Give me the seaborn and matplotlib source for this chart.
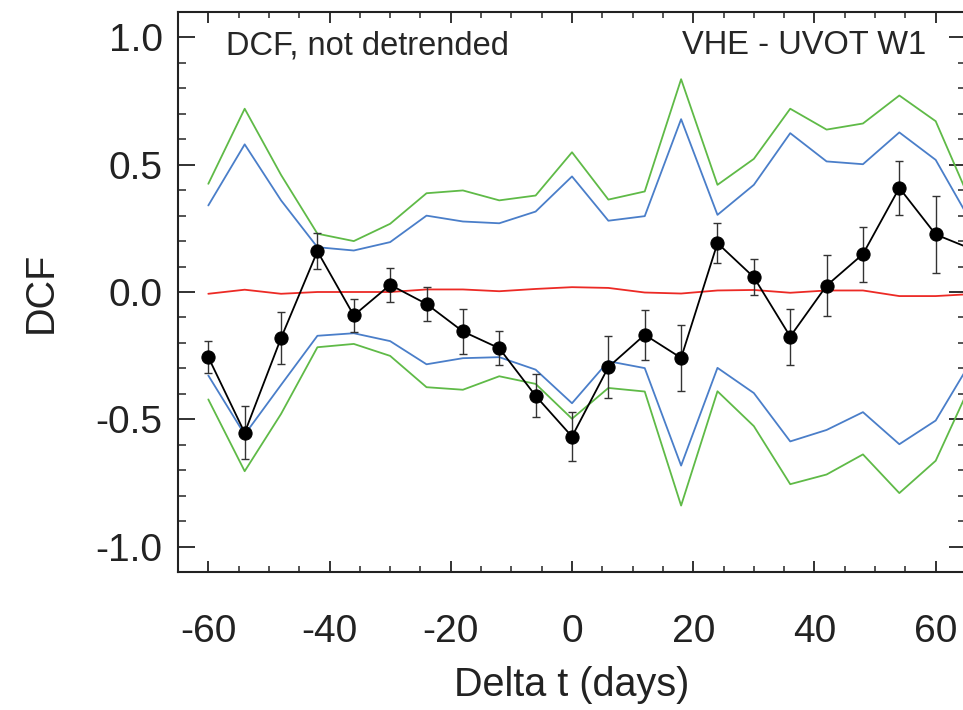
import numpy as np
import pandas as pd
import matplotlib
matplotlib.use("Agg")
import matplotlib.pyplot as plt
import seaborn as sns
from matplotlib.ticker import MultipleLocator

# time lags (days)
lags = [-60, -54, -48, -42, -36, -30, -24, -18, -12, -6, 0, 6, 12, 18, 24,
        30, 36, 42, 48, 54, 60, 66]

# DCF values and errors
dcf = [-0.256, -0.553, -0.181, 0.160, -0.092, 0.028, -0.047, -0.155, -0.221,
       -0.408, -0.568, -0.295, -0.168, -0.259, 0.192, 0.058, -0.175, 0.025,
       0.149, 0.409, 0.226, 0.168]
dcf_err = [0.062, 0.105, 0.103, 0.070, 0.064, 0.067, 0.066, 0.087, 0.066,
           0.085, 0.095, 0.123, 0.099, 0.128, 0.080, 0.070, 0.110, 0.120,
           0.108, 0.106, 0.152, 0.120]

# mean of simulated DCFs
sim_mean = [-0.007, 0.009, -0.007, 0.000, 0.000, 0.000, 0.010, 0.010, 0.003,
            0.012, 0.019, 0.016, -0.002, -0.006, 0.006, 0.008, -0.003, 0.006,
            0.006, -0.016, -0.016, -0.008]

# inner band (blue)
blue_hi = [0.340, 0.580, 0.360, 0.176, 0.163, 0.196, 0.300, 0.277, 0.270,
           0.316, 0.454, 0.280, 0.298, 0.679, 0.303, 0.421, 0.624, 0.513,
           0.502, 0.627, 0.519, 0.268]
blue_lo = [-0.328, -0.560, -0.365, -0.172, -0.162, -0.193, -0.284, -0.260,
           -0.256, -0.305, -0.437, -0.272, -0.299, -0.682, -0.298, -0.397,
           -0.587, -0.542, -0.472, -0.598, -0.505, -0.266]

# outer band (green)
green_hi = [0.425, 0.720, 0.460, 0.229, 0.200, 0.268, 0.388, 0.399, 0.360,
            0.379, 0.549, 0.363, 0.395, 0.836, 0.421, 0.523, 0.720, 0.638,
            0.662, 0.772, 0.671, 0.342]
green_lo = [-0.422, -0.704, -0.479, -0.217, -0.204, -0.251, -0.374, -0.384,
            -0.331, -0.361, -0.498, -0.377, -0.391, -0.839, -0.390, -0.527,
            -0.755, -0.717, -0.638, -0.790, -0.663, -0.352]

df = pd.DataFrame({"lag": lags, "dcf": dcf, "err": dcf_err, "mean": sim_mean,
                   "blue_hi": blue_hi, "blue_lo": blue_lo,
                   "green_hi": green_hi, "green_lo": green_lo})

sns.set_style("ticks")
plt.rcParams["font.family"] = ["Liberation Sans", "DejaVu Sans"]

fig = plt.figure(figsize=(9.63, 7.10), dpi=100)
ax = fig.add_axes([178 / 963, 138 / 710, 788 / 963, 560 / 710])

green = "#5fba47"
blue = "#4a7ec9"
red = "#ec2a25"

for col, c in [("green_hi", green), ("green_lo", green),
               ("blue_hi", blue), ("blue_lo", blue), ("mean", red)]:
    sns.lineplot(data=df, x="lag", y=col, color=c, lw=1.3, ax=ax)

ax.errorbar(df["lag"], df["dcf"], yerr=df["err"], fmt="none", ecolor="#333333",
            elinewidth=1.0, capsize=3.2, capthick=1.0, zorder=4)
sns.lineplot(data=df, x="lag", y="dcf", color="black", lw=1.3, ax=ax, zorder=5)
sns.scatterplot(data=df, x="lag", y="dcf", color="black", s=90,
                edgecolor="black", ax=ax, zorder=6)

ax.set_xlim(-65, 65)
ax.set_ylim(-1.1, 1.1)
ax.xaxis.set_minor_locator(MultipleLocator(5))
ax.yaxis.set_minor_locator(MultipleLocator(0.1))
ax.set_yticks([-1.0, -0.5, 0.0, 0.5, 1.0])
ax.set_yticklabels(["-1.0", "-0.5", "0.0", "0.5", "1.0"])
ax.set_xticks([-60, -40, -20, 0, 20, 40, 60])
ax.set_xticklabels(["-60", "-40", "-20", "0", "20", "40", "60"])

ax.tick_params(axis="x", which="major", direction="in", length=8, width=1.3,
               top=True, labelsize=28, pad=30, colors="#222222")
ax.tick_params(axis="x", which="minor", direction="in", length=4.5, width=1.1,
               top=True)
ax.tick_params(axis="y", which="major", direction="in", length=12, width=1.3,
               right=True, labelsize=28, pad=11, colors="#222222")
ax.tick_params(axis="y", which="minor", direction="in", length=6, width=1.1,
               right=True)
for s in ax.spines.values():
    s.set_linewidth(1.5)
    s.set_color("#222222")

ax.set_xlabel("Delta t (days)", fontsize=28.5, color="#222222")
ax.set_ylabel("DCF", fontsize=28.5, color="#222222")
ax.xaxis.set_label_coords(0.5, -0.168)
ax.yaxis.set_label_coords(-0.150, 0.5)

ax.text(0.061, 0.94, "DCF, not detrended", transform=ax.transAxes,
        fontsize=23.5, va="center", ha="left")
ax.text(0.64, 0.94, "VHE - UVOT W1", transform=ax.transAxes,
        fontsize=23.5, va="center", ha="left")

fig.savefig("out.png", dpi=100)
